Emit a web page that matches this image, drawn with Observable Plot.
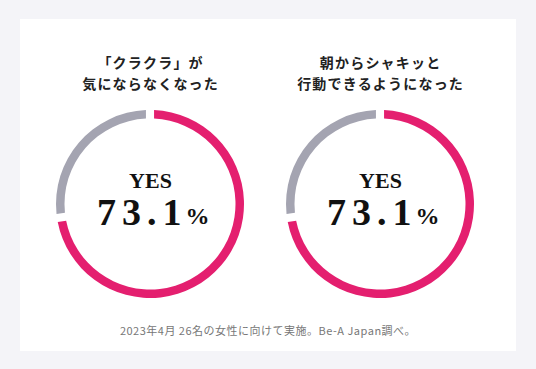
<!DOCTYPE html>
<html><head><meta charset="utf-8">
<script src="https://cdn.jsdelivr.net/npm/d3@7"></script>
<script src="https://cdn.jsdelivr.net/npm/@observablehq/plot@0.6"></script>
<style>
html,body{margin:0;padding:0;}
body{width:536px;height:369px;background:#f4f4f8;position:relative;overflow:hidden;font-family:"Noto Sans CJK JP","Noto Sans",sans-serif;}
#card{position:absolute;left:20px;top:19px;width:496px;height:332px;background:#fff;}
.col{position:absolute;top:0;width:230px;height:332px;}
.title{position:absolute;left:0;top:33px;width:230px;text-align:center;font-weight:700;font-size:14px;line-height:20.5px;letter-spacing:1.2px;padding-left:1.2px;box-sizing:border-box;color:#222;}
.chart{position:absolute;left:0;top:84.5px;}
#caption{position:absolute;left:0;top:303px;width:496px;text-align:center;font-size:11px;line-height:16px;letter-spacing:0.5px;color:#777;}
</style></head>
<body>
<div id="card"></div>
<script>
const titles = [["「クラクラ」が", "気にならなくなった"], ["朝からシャキッと", "行動できるようになった"]];
const yesValues = [73.1, 73.1];
const categories = ["YES", "NO"];
const colors = ["#e41f6f", "#a4a4b1"];
const centerLabel = "YES";
const caption = "2023年4月 26名の女性に向けて実施。Be-A Japan調べ。";

const card = document.getElementById("card");
const colLefts = [15, 245];

function ring(data) {
  return (index, scales) => {
    const color = scales.color ?? d3.scaleOrdinal(categories, colors);
    const cx = scales.x(0), cy = scales.y(0);
    const pie = d3.pie().value(d => d.value).sort(null).padAngle(0.064);
    const arc = d3.arc().innerRadius(85.5).outerRadius(94);
    const g = d3.create("svg:g").attr("transform", `translate(${cx},${cy})`);
    g.selectAll("path").data(pie(data)).join("path")
      .attr("d", arc).attr("fill", d => color(d.data.category));
    return g.node();
  };
}

yesValues.forEach((v, i) => {
  const col = document.createElement("div");
  col.className = "col";
  col.style.left = colLefts[i] + "px";
  const t = document.createElement("div");
  t.className = "title";
  t.innerHTML = titles[i].join("<br>");
  col.appendChild(t);
  const data = [{category: categories[0], value: v}, {category: categories[1], value: +(100 - v).toFixed(1)}];
  const center = [{x: 0, y: 0}];
  const plot = Plot.plot({
    width: 230, height: 200, margin: 0,
    x: {domain: [-1, 1], axis: null},
    y: {domain: [-1, 1], axis: null},
    color: {domain: categories, range: colors},
    style: {background: "transparent", overflow: "visible"},
    marks: [
      ring(data),
      Plot.text(center, {x: "x", y: "y", text: () => centerLabel, dy: -24, fontSize: 22, fontWeight: 700, fontFamily: "Liberation Serif", fill: "#111"}),
      Plot.text(center, {x: "x", y: "y", text: () => String(v), textAnchor: "end", dx: 37, dy: 8.5, fontSize: 38, fontWeight: 700, fontFamily: "Liberation Serif", fill: "#111"}),
      Plot.text(center, {x: "x", y: "y", text: () => "%", textAnchor: "start", dx: 35, dy: 12, fontSize: 24, fontWeight: 700, fontFamily: "Liberation Serif", fill: "#111"})
    ]
  });
  d3.select(plot).selectAll("text").filter(function() { return this.textContent === String(v); })
    .attr("letter-spacing", "6px");
  const wrap = document.createElement("div");
  wrap.className = "chart";
  wrap.appendChild(plot);
  col.appendChild(wrap);
  card.appendChild(col);
});

const cap = document.createElement("div");
cap.id = "caption";
cap.textContent = caption;
card.appendChild(cap);
</script>
</body></html>
